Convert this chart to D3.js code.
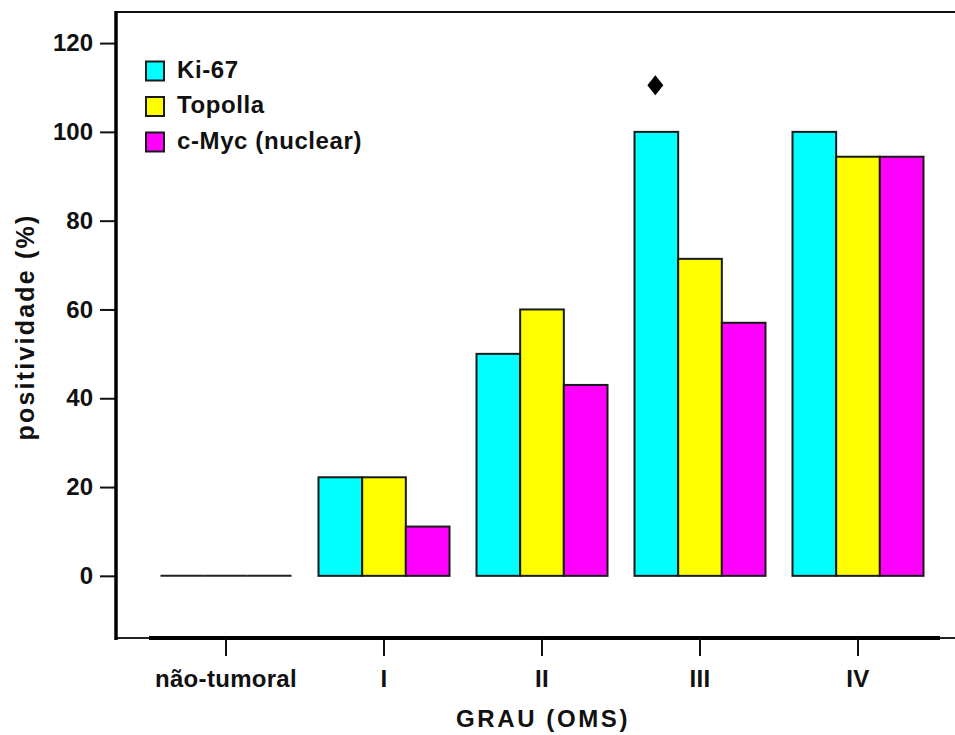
<!DOCTYPE html>
<html>
<head>
<meta charset="utf-8">
<script src="https://cdn.jsdelivr.net/npm/d3@7"></script>
<style>
  html, body { margin: 0; padding: 0; background: #fff; }
  svg { display: block; font-family: "Liberation Sans", Arial, sans-serif; font-weight: bold; }
</style>
</head>
<body>
<svg id="chart" width="955" height="735"></svg>
<script>
const categories = ["não-tumoral", "I", "II", "III", "IV"];
const seriesNames = ["Ki-67", "Topolla", "c-Myc (nuclear)"];
const ki67    = [0, 22.2, 50, 100, 100];
const topolla = [0, 22.2, 60, 71.4, 94.4];
const cmyc    = [0, 11.1, 43, 57, 94.4];
const yTicks  = [0, 20, 40, 60, 80, 100, 120];
const markerCategory = "III";
const markerSeries = "Ki-67";
const markerValue = 110.5;
const colors = ["#00FFFF", "#FFFF00", "#FF00FF"];

const series = [ki67, topolla, cmyc];
const svg = d3.select("#chart");

const y = d3.scaleLinear().domain([-14, 127]).range([638, 12]);
const x = d3.scaleBand().domain(categories).range([147, 937]).paddingInner(0).paddingOuter(0);
const inner = d3.scaleBand().domain(seriesNames).range([0, 131]);
const groupOffset = (x.bandwidth() - 131) / 2;

// top border
svg.append("line").attr("x1", 116).attr("x2", 955).attr("y1", 12).attr("y2", 12)
  .attr("stroke", "#111").attr("stroke-width", 2);
// bottom thin line + thick segment
svg.append("line").attr("x1", 116).attr("x2", 955).attr("y1", 638).attr("y2", 638)
  .attr("stroke", "#222").attr("stroke-width", 2);
svg.append("line").attr("x1", 149).attr("x2", 940).attr("y1", 638).attr("y2", 638)
  .attr("stroke", "#000").attr("stroke-width", 4);

// Y axis
const yAxis = d3.axisLeft(y).tickValues(yTicks).tickSize(16).tickPadding(7).tickSizeOuter(0);
const gy = svg.append("g").attr("transform", "translate(116,0)").call(yAxis);
gy.select(".domain").remove();
gy.selectAll(".tick line").attr("stroke", "#111").attr("stroke-width", 2);
gy.selectAll(".tick text").attr("font-size", 24).attr("font-family", "Liberation Sans, Arial, sans-serif")
  .attr("font-weight", "bold").attr("fill", "#111");
svg.append("line").attr("x1", 116).attr("x2", 116).attr("y1", 11).attr("y2", 640)
  .attr("stroke", "#000").attr("stroke-width", 3.5);

// X axis
const xAxis = d3.axisBottom(x).tickSize(17).tickPadding(14).tickSizeOuter(0);
const gx = svg.append("g").attr("transform", "translate(0,639)").call(xAxis);
gx.select(".domain").remove();
gx.selectAll(".tick line").attr("stroke", "#111").attr("stroke-width", 2);
gx.selectAll(".tick text").attr("font-size", 24).attr("font-family", "Liberation Sans, Arial, sans-serif")
  .attr("font-weight", "bold").attr("fill", "#111").attr("letter-spacing", 0.3);

// Bars
const data = [];
categories.forEach((c, i) => {
  seriesNames.forEach((s, j) => data.push({ cat: c, ser: s, val: series[j][i], color: colors[j] }));
});
const groupX = d => x(d.cat) + groupOffset + inner(d.ser);
svg.append("g").selectAll("rect").data(data.filter(d => d.val > 0)).join("rect")
  .attr("x", groupX)
  .attr("y", d => y(d.val))
  .attr("width", inner.bandwidth())
  .attr("height", d => y(0) - y(d.val))
  .attr("fill", d => d.color)
  .attr("stroke", "#1a1a1a").attr("stroke-width", 2);
svg.append("g").selectAll("line").data(data.filter(d => d.val === 0)).join("line")
  .attr("x1", groupX).attr("x2", d => groupX(d) + inner.bandwidth())
  .attr("y1", d => y(d.val)).attr("y2", d => y(d.val))
  .attr("stroke", "#222").attr("stroke-width", 2);

// Marker diamond
const mx = x(markerCategory) + groupOffset + inner(markerSeries) + inner.bandwidth() / 2 - 1;
const my = y(markerValue);
svg.append("path")
  .attr("d", `M${mx},${my - 10} L${mx + 8},${my} L${mx},${my + 10} L${mx - 8},${my} Z`)
  .attr("fill", "#000");

// Legend
const lg = svg.append("g");
seriesNames.forEach((s, j) => {
  const cy = 71 + j * 35.5;
  lg.append("rect").attr("x", 146).attr("y", cy - 9.5).attr("width", 18).attr("height", 19)
    .attr("fill", colors[j]).attr("stroke", "#1a1a1a").attr("stroke-width", 2);
  lg.append("text").attr("x", 177).attr("y", cy + 6.5).attr("font-size", 24)
    .attr("letter-spacing", 0.6).attr("fill", "#111").text(s);
});

// Axis titles
svg.append("text").attr("transform", "translate(34,327) rotate(-90)")
  .attr("text-anchor", "middle").attr("font-size", 25).attr("letter-spacing", 2.2)
  .attr("fill", "#111").text("positividade (%)");
svg.append("text").attr("x", 543).attr("y", 727).attr("text-anchor", "middle")
  .attr("font-size", 24).attr("letter-spacing", 2.6).attr("fill", "#111").text("GRAU (OMS)");
</script>
</body>
</html>
